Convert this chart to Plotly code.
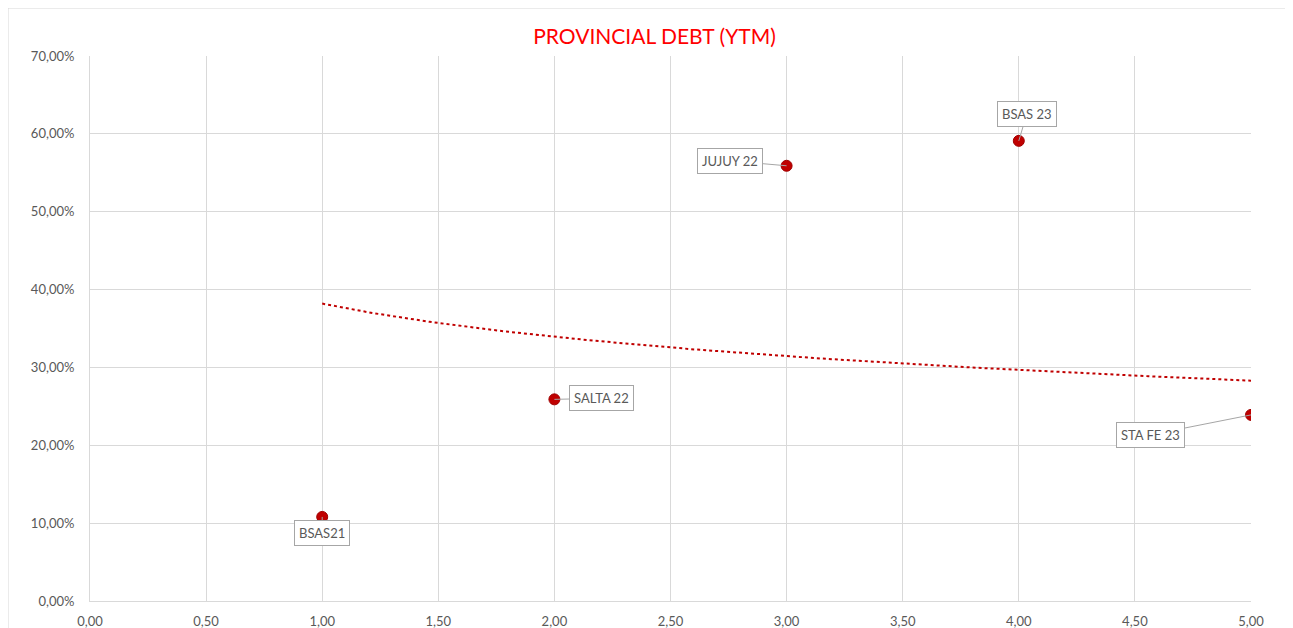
import numpy as np
import plotly.graph_objects as go

# Data
bonds = ["BSAS21", "SALTA 22", "JUJUY 22", "BSAS 23", "STA FE 23"]
duration = [1.0, 2.0, 3.0, 4.0, 5.0]
ytm = [10.8, 25.9, 55.9, 59.1, 23.9]  # percent

# Trendline (logarithmic, as displayed): y = a + b*ln(x)
trend_a = 38.2
trend_b = -6.15
trend_x = np.linspace(1.0, 5.0, 200)
trend_y = trend_a + trend_b * np.log(trend_x)

# label offsets (pixels) for callouts
label_ax = [0, 47, -57, 8, -101]
label_ay = [16, -1, -5, -27, 20]

RED = "#C00000"
GRID = "#D9D9D9"
TXT = "#595959"
FONT = "Lato, 'Open Sans', sans-serif"

fig = go.Figure()
fig.add_trace(go.Scatter(x=trend_x, y=trend_y, mode="lines",
                         line=dict(color=RED, width=2, dash="dot"),
                         hoverinfo="skip", showlegend=False))
fig.add_trace(go.Scatter(x=duration, y=ytm, mode="markers",
                         marker=dict(color=RED, size=11, line=dict(color="#A00000", width=1)),
                         text=bonds, showlegend=False))

for name, x, y, ax, ay in zip(bonds, duration, ytm, label_ax, label_ay):
    fig.add_annotation(x=x, y=y, text=name, showarrow=True, arrowhead=0,
                       arrowwidth=1, arrowcolor="#A6A6A6", ax=ax, ay=ay,
                       bgcolor="white", bordercolor="#A6A6A6", borderwidth=1,
                       borderpad=4, font=dict(family=FONT, size=13, color=TXT))

fig.add_shape(type="rect", xref="paper", yref="paper",
              x0=-0.0706, x1=1.0336, y0=-0.2, y1=1.088,
              line=dict(color=GRID, width=1), fillcolor="rgba(0,0,0,0)", layer="below")

fig.update_layout(
    width=1293, height=628,
    margin=dict(l=82, r=50, t=48, b=35),
    paper_bgcolor="white", plot_bgcolor="white",
    separators=",.",
    title=dict(text="PROVINCIAL DEBT (YTM)", x=0.5, xanchor="center",
               y=1 - 29 / 628, yanchor="middle",
               font=dict(family=FONT, size=21, color="#FF0000")),
    font=dict(family=FONT, size=13, color=TXT),
    xaxis=dict(range=[0, 5], dtick=0.5, tickformat=".2f", showgrid=True,
               gridcolor=GRID, gridwidth=1, zeroline=False, showline=True,
               linecolor=GRID, ticks="outside", ticklen=8, tickcolor="rgba(0,0,0,0)",
               mirror=False, automargin=False,
               tickfont=dict(family=FONT, size=13, color=TXT)),
    yaxis=dict(range=[0, 70], dtick=10, tickformat=".2f", ticksuffix="%",
               showgrid=True, gridcolor=GRID, gridwidth=1, zeroline=False,
               showline=True, linecolor=GRID, ticks="outside", ticklen=12,
               tickcolor="rgba(0,0,0,0)", automargin=False,
               tickfont=dict(family=FONT, size=13, color=TXT)),
)

fig.write_html("out.html")
